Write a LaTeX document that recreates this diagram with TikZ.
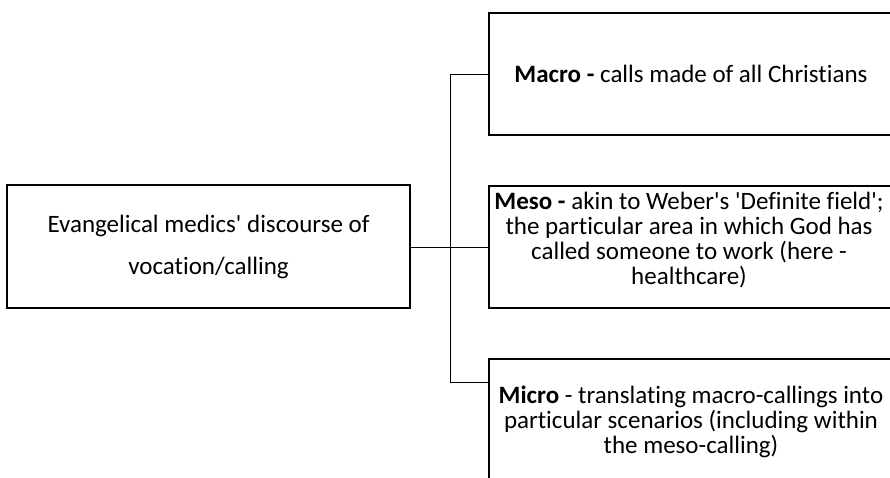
\documentclass[tikz,border=0pt]{standalone}
\usepackage{fontspec}
\setmainfont[Ligatures=NoCommon]{Carlito}
\begin{document}
\begin{tikzpicture}[x=1pt,y=-1pt,
  box/.style={draw=black,line width=1.8pt,rectangle,inner sep=0pt,
    minimum width=404pt,minimum height=122pt},
  txt/.style={align=center,inner sep=0pt,font=\fontsize{25}{24.8}\selectfont},
  conn/.style={draw=black,line width=0.9pt}]
\useasboundingbox (0,0) rectangle (890,478);
\node[box,minimum width=403pt,minimum height=123pt,align=center,font=\fontsize{25}{42}\selectfont] (root) at (208.5,246.5)
  {Evangelical medics\textquotesingle\ discourse of\\vocation/calling};
\node[box] (macro) at (691,74) {};
\node[txt] (macrotext) at (691,74) {\textbf{Macro -} calls made of all Christians};
\node[box] (meso) at (691,247) {};
\node[txt] (mesotext) at (689,240) {\textbf{Meso -} akin to Weber\textquotesingle s \textquotesingle Definite field\textquotesingle ;\\the particular area in which God has\\called someone to work (here -\\healthcare)};
\node[box] (micro) at (691,420) {};
\node[txt] (microtext) at (691,422) {\textbf{Micro} - translating macro-callings into\\particular scenarios (including within\\the meso-calling)};
\coordinate (jtop) at (450,74);
\coordinate (jmid) at (450,247);
\coordinate (jbot) at (450,382);
\draw[conn] (root.east |- jmid) -- (jmid);
\draw[conn] (jtop) -- (jbot);
\draw[conn] (jtop) -- (macro.west |- jtop);
\draw[conn] (jmid) -- (meso.west |- jmid);
\draw[conn] (jbot) -- (micro.west |- jbot);
\end{tikzpicture}
\end{document}
